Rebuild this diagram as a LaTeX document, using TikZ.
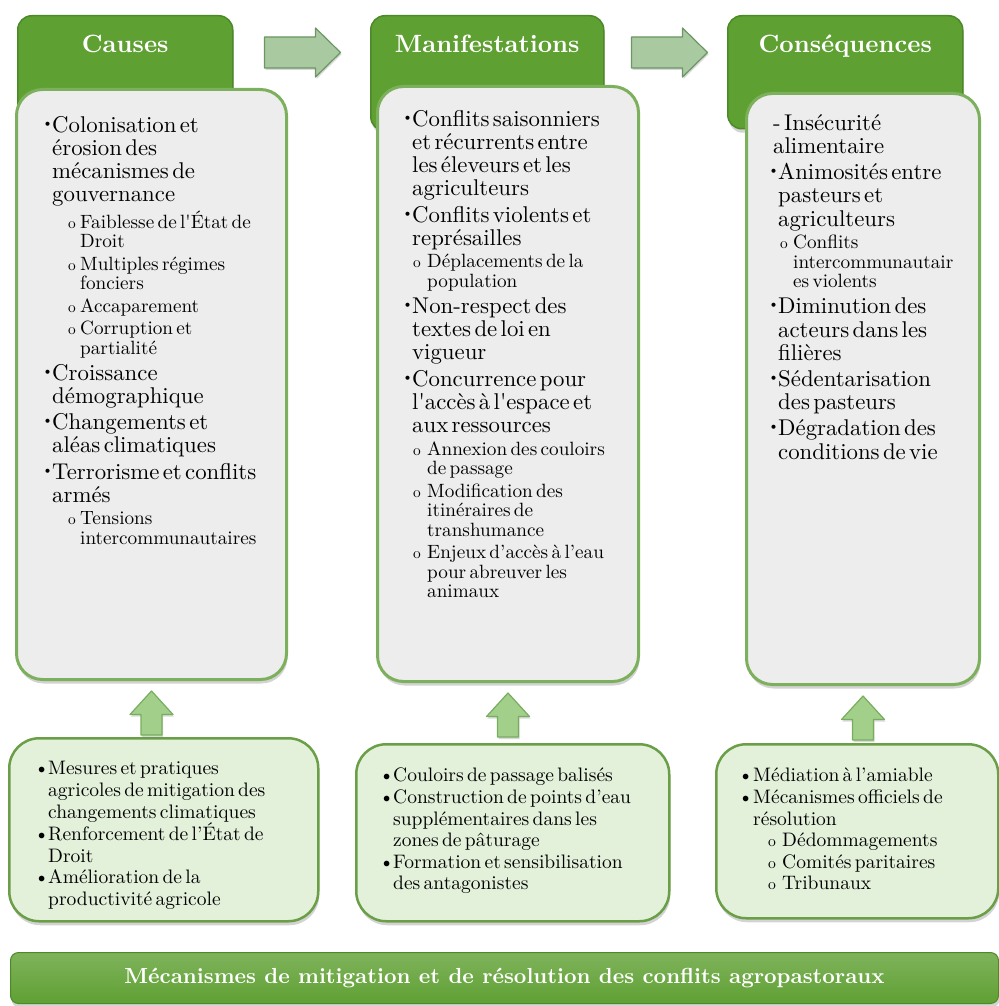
\documentclass[tikz,border=0pt]{standalone}
\usepackage{fontspec}
\setmainfont{lmroman10-regular.otf}[BoldFont=lmroman10-bold.otf,ItalicFont=lmroman10-italic.otf]
\usepackage{xcolor}
\usepackage{tikz}
\usetikzlibrary{calc}
\usetikzlibrary{positioning,shadows}
\definecolor{headgreen}{HTML}{5FA033}
\definecolor{headline}{HTML}{4C8A28}
\definecolor{boxgray}{HTML}{EDEDED}
\definecolor{boxline}{HTML}{7DB05C}
\definecolor{mitfill}{HTML}{E3F0DA}
\definecolor{mitline}{HTML}{6A9F48}
\definecolor{arrfill}{HTML}{A9C9A1}
\definecolor{arrline}{HTML}{6C9664}
\definecolor{uparrfill}{HTML}{A2CF8A}
\definecolor{uparrline}{HTML}{78AD60}
\newlength\bulw
\newlength\subl
\newlength\subw
\newcommand\itemfont{\fontsize{22.8}{23.2}\selectfont}
\newcommand\subfont{\fontsize{19.2}{19.5}\selectfont}
\newcommand\mitfont{\fontsize{19.5}{21.6}\selectfont}
\newcommand\bul[1]{\par{\itemfont\leftskip=0pt\hangindent=\bulw\hangafter=1\noindent
  \makebox[\bulw][l]{\raisebox{.5ex}{\scalebox{.62}{\textbullet}}}#1\par}}
\newcommand\sbul[1]{\par{\subfont\leftskip=\subl\hangindent=\subw\hangafter=1\noindent
  \makebox[\subw][l]{\scalebox{.8}{o}}#1\par}}
\newcommand\mbul[1]{\par{\mitfont\leftskip=0pt\hangindent=\bulw\hangafter=1\noindent
  \makebox[\bulw][l]{\textbullet}#1\par}}
\newcommand\msbul[1]{\par{\mitfont\leftskip=\subl\hangindent=\subw\hangafter=1\noindent
  \makebox[\subw][l]{\scalebox{.8}{o}}#1\par}}
\newcommand\rightarr[2]{
  \coordinate (a) at ( $ (#1) + (#2) $ );
  \draw[flatarrow] (a) -- ($ (a) + (0,-15.5) $) -- ($ (a) + (51,-15.5) $) -- ($ (a) + (51,-24.5) $)
    -- ($ (a) + (76,0) $) -- ($ (a) + (51,24.5) $) -- ($ (a) + (51,15.5) $) -- ($ (a) + (0,15.5) $) -- cycle;
}
\newcommand\uparr[1]{
  \coordinate (a) at ( $ (#1) + (0,10) $ );
  \draw[uparrow] (a) -- ($ (a) + (21.5,23.5) $) -- ($ (a) + (10.5,23.5) $) -- ($ (a) + (10.5,44) $)
    -- ($ (a) + (-10.5,44) $) -- ($ (a) + (-10.5,23.5) $) -- ($ (a) + (-21.5,23.5) $) -- cycle;
}
\tikzset{
  softshadow/.style={drop shadow={shadow xshift=1pt,shadow yshift=-4pt,opacity=.35}},
  headbox/.style={draw=headline,line width=1.5pt,fill=headgreen,rounded corners=14pt,
    anchor=north west,softshadow},
  headtitle/.style={text=white,font=\fontsize{25}{28}\selectfont\bfseries,anchor=base},
  contentbox/.style={draw=boxline,line width=3pt,fill=boxgray,rounded corners=26pt,
    anchor=north west,softshadow},
  mitbox/.style={draw=mitline,line width=2.5pt,fill=mitfill,rounded corners=30pt,
    anchor=north west,softshadow},
  listtext/.style={anchor=north west,inner sep=0pt,text width=270pt,align=left},
  flatarrow/.style={draw=arrline,line width=1.2pt,fill=arrfill,line join=round,
    drop shadow={shadow xshift=1pt,shadow yshift=-2pt,opacity=.3}},
  uparrow/.style={draw=uparrline,line width=1.2pt,fill=uparrfill,line join=round,
    drop shadow={shadow xshift=1pt,shadow yshift=-2pt,opacity=.3}},
  titlebar/.style={draw=headline,line width=1pt,top color=headgreen!80!white,bottom color=headgreen,
    rounded corners=8pt,anchor=north west,text=white,font=\fontsize{21.8}{24}\selectfont\bfseries,
    softshadow}
}
\begin{document}
\begin{tikzpicture}[x=1pt,y=-1pt]
      \useasboundingbox (0,0) rectangle (998,1006);

      \node[headbox,minimum width=215pt,minimum height=115pt] (causes) at (17,15) {};
      \node[headbox,minimum width=233pt,minimum height=115pt] (manif) at (370,15) {};
      \node[headbox,minimum width=235pt,minimum height=113pt] (conseq) at (727,15) {};
      \node[headtitle] (causestitle) at ([yshift=-38pt]causes.north) {Causes};
      \node[headtitle] (maniftitle) at ([yshift=-38pt]manif.north) {Manifestations};
      \node[headtitle] (conseqtitle) at ([yshift=-38pt]conseq.north) {Conséquences};

      \rightarr{causes.north east}{31,37.5}
      \rightarr{manif.north east}{27,37.5}

      \node[contentbox,minimum width=270pt,minimum height=590pt] (causesbox) at (15,88) {};
      \node[contentbox,minimum width=261pt,minimum height=595pt] (manifbox) at (376,85) {};
      \node[contentbox,minimum width=233pt,minimum height=591pt] (conseqbox) at (745,92) {};

      \node[listtext] (causestext) at (42,106) {\setlength\bulw{10pt}\setlength\subl{26pt}\setlength\subw{12pt}\setlength\parskip{3pt}
        \bul{Colonisation et\newline érosion des\newline mécanismes de\newline gouvernance}
        \sbul{Faiblesse de l\textquotesingle État de\newline Droit}
        \sbul{Multiples régimes\newline fonciers}
        \sbul{Accaparement}
        \sbul{Corruption et\newline partialité}
        \bul{Croissance\newline démographique}
        \bul{Changements et\newline aléas climatiques}
        \bul{Terrorisme et conflits\newline armés}
        \sbul{Tensions\newline intercommunautaires}};

      \node[listtext] (maniftext) at (402,100) {\setlength\bulw{10pt}\setlength\subl{11pt}\setlength\subw{14pt}\setlength\parskip{3pt}
        \bul{Conflits saisonniers\newline et récurrents entre\newline les éleveurs et les\newline agriculteurs}
        \bul{Conflits violents et\newline représailles}
        \sbul{Déplacements de la\newline population}
        \bul{Non-respect des\newline textes de loi en\newline vigueur}
        \bul{Concurrence pour\newline l\textquotesingle accès à l\textquotesingle espace et\newline aux ressources}
        \sbul{Annexion des couloirs\newline de passage}
        \sbul{Modification des\newline itinéraires de\newline transhumance}
        \sbul{Enjeux d’accès à l’eau\newline pour abreuver les\newline animaux}};

      \node[listtext] (conseqtext) at (768,104) {\setlength\bulw{10pt}\setlength\subl{12pt}\setlength\subw{13pt}\setlength\parskip{3pt}
        \par{\itemfont\leftskip=5pt\noindent- Insécurité\newline alimentaire\par}
        \bul{Animosités entre\newline pasteurs et\newline agriculteurs}
        \sbul{Conflits\newline intercommunautair\newline es violents}
        \bul{Diminution des\newline acteurs dans les\newline filières}
        \bul{Sédentarisation\newline des pasteurs}
        \bul{Dégradation des\newline conditions de vie}};

      \node[mitbox,minimum width=309pt,minimum height=183pt] (causesmit) at (8,737) {};
      \node[mitbox,minimum width=313pt,minimum height=177pt] (manifmit) at (355,743) {};
      \node[mitbox,minimum width=282pt,minimum height=174pt] (conseqmit) at (715,743) {};

      \uparr{causesbox.south}
      \uparr{manifbox.south}
      \uparr{conseqbox.south}

      \node[listtext] (causesmittext) at (34,753) {\setlength\bulw{14pt}\setlength\parskip{0pt}
        \mbul{Mesures et pratiques\newline agricoles de mitigation des\newline changements climatiques}
        \mbul{Renforcement de l’État de\newline Droit}
        \mbul{Amélioration de la\newline productivité agricole}};

      \node[listtext] (manifmittext) at (379,760) {\setlength\bulw{14pt}\setlength\parskip{0pt}
        \mbul{Couloirs de passage balisés}
        \mbul{Construction de points d’eau\newline supplémentaires dans les\newline zones de pâturage}
        \mbul{Formation et sensibilisation\newline des antagonistes}};

      \node[listtext] (conseqmittext) at (738,760) {\setlength\bulw{15pt}\setlength\subl{30pt}\setlength\subw{14pt}\setlength\parskip{0pt}
        \mbul{Médiation à l’amiable}
        \mbul{Mécanismes officiels de\newline résolution}
        \msbul{Dédommagements}
        \msbul{Comités paritaires}
        \msbul{Tribunaux}};

      \node[titlebar,minimum width=988pt,minimum height=51pt] (mitbar) at (10,952)
        {Mécanismes de mitigation et de résolution des conflits agropastoraux};

\end{tikzpicture}
\end{document}
